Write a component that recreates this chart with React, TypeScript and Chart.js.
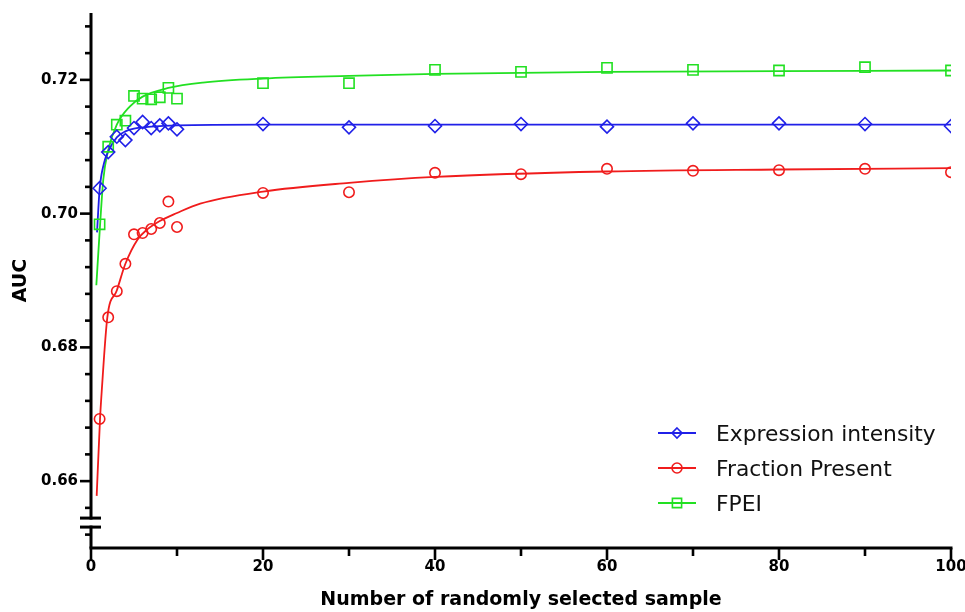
import React, { useEffect, useRef } from 'react';
import { Chart, registerables } from 'chart.js';

Chart.register(...registerables);

// ---------- data ----------
const sampleSizes = [1, 2, 3, 4, 5, 6, 7, 8, 9, 10, 20, 30, 40, 50, 60, 70, 80, 90, 100];

const expressionIntensity = [0.7038, 0.7092, 0.7115, 0.711, 0.7128, 0.7137, 0.7128, 0.7132, 0.7135, 0.7126, 0.7134, 0.7129, 0.7131, 0.7134, 0.713, 0.7135, 0.7135, 0.7134, 0.7131];
const fractionPresent = [0.6693, 0.6845, 0.6884, 0.6925, 0.6969, 0.6971, 0.6977, 0.6986, 0.7018, 0.698, 0.7031, 0.7032, 0.7061, 0.7059, 0.7067, 0.7064, 0.7065, 0.7067, 0.7062];
const fpei = [0.6984, 0.71, 0.7133, 0.7139, 0.7176, 0.7172, 0.7171, 0.7174, 0.7188, 0.7172, 0.7195, 0.7195, 0.7215, 0.7212, 0.7218, 0.7215, 0.7214, 0.7219, 0.7214];

// fitted curves, sampled along the drawn curve
const expressionFitX = [0.7, 1, 1.5, 2, 3, 4, 5, 7, 10, 20, 40, 100];
const expressionFitY = [0.6972, 0.7036, 0.7075, 0.7093, 0.7114, 0.7123, 0.7127, 0.713, 0.7132, 0.7133, 0.7133, 0.7133];

const fractionFitX = [0.66, 1.05, 1.25, 1.9, 3, 4, 5.4, 6.5, 8, 10, 12.7, 20, 30, 40, 60, 80, 100];
const fractionFitY = [0.6578, 0.6693, 0.6735, 0.6845, 0.6885, 0.6925, 0.6961, 0.6976, 0.6989, 0.7001, 0.7015, 0.7033, 0.7046, 0.7055, 0.7063, 0.7066, 0.7068];

const fpeiFitX = [0.62, 1, 1.43, 2, 3, 4.5, 6, 9, 13, 20, 30, 40, 60, 80, 100];
const fpeiFitY = [0.6893, 0.6972, 0.7051, 0.7095, 0.7133, 0.716, 0.7175, 0.7188, 0.7196, 0.7202, 0.7206, 0.7209, 0.7212, 0.7213, 0.7214];

const seriesNames = ['Expression intensity', 'Fraction Present', 'FPEI'];
const seriesColors = ['#2020e8', '#f01c1c', '#22e022'];
const seriesMarkers = ['rectRot', 'circle', 'rect'];

const xTickLabels = [0, 20, 40, 60, 80, 100];
const yTickLabels = [0.66, 0.68, 0.7, 0.72];
const yBreakAt = 0.6538;

const xAxisTitle = 'Number of randomly selected sample';
const yAxisTitle = 'AUC';

// ---------- helpers ----------
const isYLabel = (v: number) => yTickLabels.some((t) => Math.abs(t - v) < 1e-6);
const isXLabel = (v: number) => xTickLabels.some((t) => Math.abs(t - v) < 1e-6);

const pts = (xs: number[], ys: number[]) => xs.map((x, i) => ({ x, y: ys[i] }));

const markerRadius: Record<string, number> = { rectRot: 6.5, circle: 5.2, rect: 7.2 };

function drawMarker(ctx: CanvasRenderingContext2D, style: string, x: number, y: number, r: number) {
  ctx.beginPath();
  if (style === 'circle') {
    ctx.arc(x, y, r, 0, Math.PI * 2);
  } else if (style === 'rect') {
    ctx.rect(x - r, y - r, 2 * r, 2 * r);
  } else {
    ctx.moveTo(x, y - r);
    ctx.lineTo(x + r, y);
    ctx.lineTo(x, y + r);
    ctx.lineTo(x - r, y);
    ctx.closePath();
  }
  ctx.stroke();
}

const axesPlugin = {
  id: 'prismAxes',
  afterDraw(chart: any) {
    const { ctx, chartArea, scales } = chart;
    const xs = scales.x;
    const ys = scales.y;
    const { left, right, top, bottom } = chartArea;
    ctx.save();
    ctx.strokeStyle = '#000';
    ctx.fillStyle = '#000';
    ctx.lineCap = 'butt';
    ctx.lineWidth = 3;
    ctx.beginPath();
    ctx.moveTo(left, top);
    ctx.lineTo(left, bottom);
    ctx.stroke();
    ctx.beginPath();
    ctx.moveTo(left - 1.5, bottom);
    ctx.lineTo(right + 1.5, bottom);
    ctx.stroke();
    ctx.lineWidth = 2.6;
    ys.ticks.forEach((t: any) => {
      if (t.value <= ys.min + 1e-9 || t.value >= ys.max - 1e-9) return;
      const y = ys.getPixelForValue(t.value);
      const len = isYLabel(t.value) ? 11 : 6;
      ctx.beginPath();
      ctx.moveTo(left - len, y);
      ctx.lineTo(left, y);
      ctx.stroke();
    });
    xs.ticks.forEach((t: any) => {
      const x = xs.getPixelForValue(t.value);
      const len = isXLabel(t.value) ? 12 : 8;
      ctx.beginPath();
      ctx.moveTo(x, bottom);
      ctx.lineTo(x, bottom + len);
      ctx.stroke();
    });
    const yb = ys.getPixelForValue(yBreakAt);
    ctx.fillStyle = '#fff';
    ctx.fillRect(left - 3, yb - 3, 6, 6);
    ctx.fillStyle = '#000';
    ctx.fillRect(left - 11, yb - 6, 21, 3);
    ctx.fillRect(left - 11, yb + 3, 21, 3);
    ctx.restore();
  },
};

const legendPlugin = {
  id: 'insideLegend',
  afterDraw(chart: any) {
    const { ctx, chartArea } = chart;
    ctx.save();
    seriesNames.forEach((name, i) => {
      const y = chartArea.bottom - 115 + i * 35;
      const x0 = chartArea.right - 293;
      const x1 = chartArea.right - 255;
      ctx.strokeStyle = seriesColors[i];
      ctx.lineWidth = 1.8;
      ctx.beginPath();
      ctx.moveTo(x0, y);
      ctx.lineTo(x1, y);
      ctx.stroke();
      ctx.lineWidth = 1.6;
      drawMarker(ctx, seriesMarkers[i], (x0 + x1) / 2, y, seriesMarkers[i] === 'rect' ? 4.6 : 5);
      ctx.fillStyle = '#111';
      ctx.font = '21.8px "DejaVu Sans"';
      ctx.textAlign = 'left';
      ctx.textBaseline = 'alphabetic';
      ctx.fillText(name, chartArea.right - 235, y + 8);
    });
    ctx.restore();
  },
};

export default function App() {
  const canvasRef = useRef<HTMLCanvasElement | null>(null);

  useEffect(() => {
    const canvas = canvasRef.current;
    if (!canvas) return;

    const values = [expressionIntensity, fractionPresent, fpei];
    const fits = [
      pts(expressionFitX, expressionFitY),
      pts(fractionFitX, fractionFitY),
      pts(fpeiFitX, fpeiFitY),
    ];

    const datasets: any[] = [];
    seriesNames.forEach((name, i) => {
      datasets.push({
        type: 'scatter',
        label: name,
        data: pts(sampleSizes, values[i]),
        showLine: false,
        pointStyle: seriesMarkers[i],
        pointRadius: markerRadius[seriesMarkers[i]],
        pointBorderWidth: 1.6,
        pointBorderColor: seriesColors[i],
        pointBackgroundColor: 'rgba(0,0,0,0)',
        borderColor: seriesColors[i],
        backgroundColor: 'rgba(0,0,0,0)',
      });
    });
    seriesNames.forEach((name, i) => {
      datasets.push({
        type: 'line',
        label: name + ' fit',
        data: fits[i],
        showLine: true,
        pointRadius: 0,
        borderColor: seriesColors[i],
        borderWidth: 1.8,
        cubicInterpolationMode: 'monotone',
        fill: false,
      });
    });

    const tickFont = { family: '"DejaVu Sans"', weight: 'bold' as const, size: 15 };
    const titleFont = { family: '"DejaVu Sans"', weight: 'bold' as const, size: 19 };

    const chart = new Chart(canvas, {
      type: 'scatter',
      data: { datasets },
      options: {
        animation: false,
        responsive: false,
        maintainAspectRatio: false,
        layout: { padding: { top: 13, right: 14, left: 0, bottom: 0 } },
        plugins: {
          legend: { display: false },
          tooltip: { enabled: false },
        },
        scales: {
          x: {
            type: 'linear',
            min: 0,
            max: 100,
            afterFit: (s: any) => {
              s.height = 64;
              s.paddingLeft = 0;
              s.paddingRight = 0;
            },
            afterBuildTicks: (s: any) => {
              const t: any[] = [];
              for (let v = 0; v <= 100; v += 10) t.push({ value: v });
              s.ticks = t;
            },
            ticks: {
              font: tickFont,
              color: '#000',
              padding: 10,
              autoSkip: false,
              maxRotation: 0,
              callback: (v: any) => (isXLabel(Number(v)) ? String(v) : ''),
            },
            grid: { display: false, drawTicks: false },
            border: { display: false },
            title: {
              display: true,
              text: xAxisTitle,
              color: '#000',
              font: titleFont,
              padding: { top: 0, bottom: 1 },
            },
          },
          y: {
            type: 'linear',
            min: 0.65,
            max: 0.73,
            afterFit: (s: any) => {
              s.width = 91;
              s.paddingTop = 0;
              s.paddingBottom = 0;
            },
            afterBuildTicks: (s: any) => {
              const t: any[] = [{ value: 0.65 }];
              for (let k = 0; k < 20; k++) t.push({ value: Math.round((0.652 + k * 0.004) * 1000) / 1000 });
              t.push({ value: 0.73 });
              s.ticks = t;
            },
            ticks: {
              font: tickFont,
              color: '#000',
              padding: 13,
              autoSkip: false,
              callback: (v: any) => (isYLabel(Number(v)) ? Number(v).toFixed(2) : ''),
            },
            grid: { display: false, drawTicks: false },
            border: { display: false },
            title: {
              display: true,
              text: yAxisTitle,
              color: '#000',
              font: titleFont,
              padding: { top: 10, bottom: 0 },
            },
          },
        },
      },
      plugins: [axesPlugin, legendPlugin],
    } as any);

    return () => {
      chart.destroy();
    };
  }, []);

  return (
    <div style={{ position: 'fixed', left: 0, top: 0, width: 965, height: 612, background: '#fff' }}>
      <canvas ref={canvasRef} width={965} height={612} style={{ display: 'block', width: 965, height: 612 }} />
    </div>
  );
}
